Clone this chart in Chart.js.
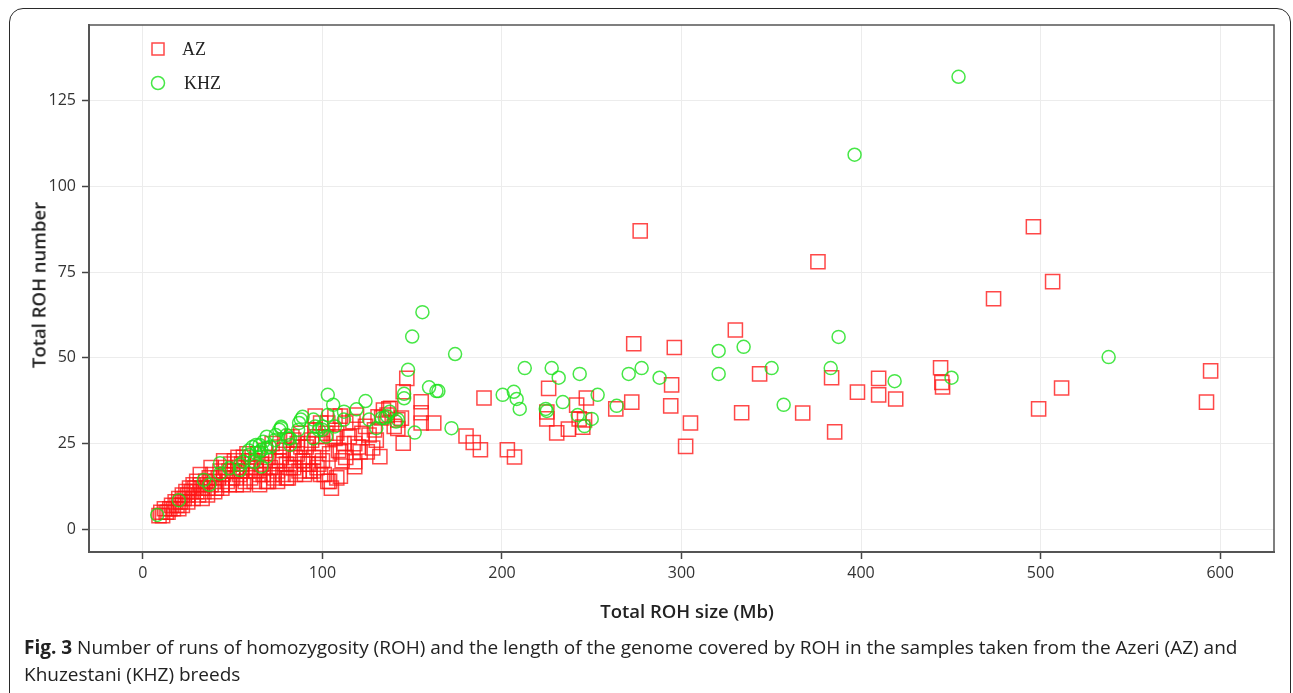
<!DOCTYPE html>
<html><head><meta charset="utf-8">
<script src="https://cdn.jsdelivr.net/npm/chart.js@4/dist/chart.umd.min.js"></script>
<style>
html,body{margin:0;padding:0;background:#fff;width:1293px;height:693px;overflow:hidden;font-family:"Open Sans",sans-serif;}
#wrap{position:relative;width:1293px;height:693px;}
#frame{position:absolute;left:9px;top:8px;width:1282px;height:730px;border:1.6px solid #2a2a2a;border-radius:14px;box-sizing:border-box;}
canvas{position:absolute;left:0;top:0;}
.ytitle{position:absolute;left:38px;top:285px;transform:translate(-50%,-50%) rotate(-90deg);font-weight:600;font-size:18.5px;color:#222;white-space:nowrap;}
.xtitle{position:absolute;left:687px;top:610px;transform:translate(-50%,-50%);font-weight:600;font-size:18.5px;color:#222;white-space:nowrap;}
.caption{position:absolute;left:24px;top:634px;font-size:19px;line-height:27px;color:#222;white-space:nowrap;}
</style></head>
<body>
<div id="wrap">
<div id="frame"></div>
<canvas id="c" width="1293" height="693"></canvas>
<div class="ytitle">Total ROH number</div>
<div class="xtitle">Total ROH size (Mb)</div>
<div class="caption"><b>Fig. 3</b> Number of runs of homozygosity (ROH) and the length of the genome covered by ROH in the samples taken from the Azeri (AZ) and<br>Khuzestani (KHZ) breeds</div>
</div>
<script>
const seriesNames = ["AZ", "KHZ"];
const xTickValues = [0, 100, 200, 300, 400, 500, 600];
const yTickValues = [0, 25, 50, 75, 100, 125];

const azX = [9,10,11,12,13,14,15,16,17,18,19,20,21,22,23,24,25,26,27,28,29,30,31,32,33,34,35,36,37,38,39,40,41,42,43,44,45,46,47,48,49,50,51,52,53,54,55,56,57,58,59,60,
 20,22,25,28,30,33,36,40,44,48,52,56,32,38,45,50,55,60,58,53,
 61,62,63,64,65,66,67,68,69,70,71,72,73,74,75,76,77,78,79,80,81,82,83,84,85,86,87,88,89,90,91,92,93,94,95,96,97,98,99,100,101,102,103,104,105,106,107,108,
 65,70,75,80,85,90,76,86,95,98,92,88,84,78,72,68,63,82,97,100,104,99,103,96,
 107,108,109,110,110,111,112,113,115,117,118,118,118,119,120,121,122,124,125,126,128,129,130,131,132,133,134,136,137,138,140,142,142,144,145,145,147,155,155,155,162,110,113,
 180,184,188,190,203,207,225,225,226,230.5,237,241.6,243,245,246,247,263.4,272.3,273.4,277,294.5,294,296,302.3,305,330,333.5,343.5,367.5,376,383.6,385.3,398,409.8,409.8,419.3,444.3,445.4,445,473.8,496,498.9,506.7,511.7,592.4,594.7];
const azY = [4,5,4,6,5,5,6,7,6,8,7,9,8,10,9,11,10,12,11,13,12,14,10,13,12,11,14,12,15,13,16,14,12,15,17,13,16,18,14,17,19,15,20,13,18,16,19,21,14,17,20,15,
 6,7,8,9,11,9,10,11,12,13,15,13,16,18,20,17,17,18,22,21,
 20,14,17,22,13,19,16,23,14,21,18,25,15,20,17,24,21,16,26,19,15,23,27,18,21,25,17,28,20,16,24,19,17,26,21,29,18,23,31,25,16,28,14,22,12,27,33,15,
 16,14,14,15,16,19,20,22,17,19,25,24,26,23,16,18,20,18,27,20,14,16,31,33,
 26.5,28,23,22.6,15.5,20,25,21,27,31.4,25,18.3,19.7,33.3,24,22.6,28,30,22.6,27.5,23.7,29,26,32.8,21.2,32.5,34.8,33.3,35.1,35.3,30,31.9,29.4,32.4,40.1,25.1,44,37.2,34,31,31,33,31,
 27.2,25.3,23.2,38.3,23.2,21.1,34.2,32.2,41.1,28.1,29.2,36.2,32.2,29.8,31.9,38.3,35.1,37.1,54.1,87,42.1,36,53,24.2,31,58.1,34,45.3,33.9,78,44.2,28.4,40,44,39.2,38,47.1,41.5,42.8,67.2,88.2,35.1,72.2,41.2,37.1,46.2];

const khzX = [8,20,34,37,43,43,48,54,54,56,59,59,61,62,63,63,65,65,66,66,67,69,69,69,71,73.5,74,77,77,80,81,82,82,76,86.5,87,88,89,95,95,96,98,100,100,102,103,103,106,107,112,112,119,124,126,130,133,136,137.5,134.7,141,142,145.5,145.5,147.7,150,151.4,155.7,159.4,163.5,164.6,171.9,173.9,
 200.4,206.6,208.2,209.9,212.7,224.4,225,227.7,231.6,233.9,242.2,243.3,246,250,253.3,263.9,270.6,277.8,287.8,320.7,320.7,334.6,350.2,356.9,383.1,387.5,396.4,418.7,450.4,454.3,537.9];
const khzY = [4.2,8.5,14.4,13,19.3,16.3,17.8,18.8,17.3,19.7,21.7,23,24,19.7,22.2,24.6,24.6,22.6,23.1,18.3,25.5,21.2,23.8,27,24,26,27.5,29.9,29.5,27.5,26.5,24.6,26.5,29,29,31,32,32.8,32,26.5,30,29,29,30,27,39.2,33.3,36.3,30,34.3,32,35,37.4,32,29.5,32.4,33,34.3,32.5,31.4,32,39.5,38.2,46.5,56.2,28.2,63.3,41.4,40.3,40.3,29.5,51.1,
 39.2,40.1,38,35.1,47,35.1,34.5,47,44.2,37.1,33.3,45.3,30.1,32.2,39.2,36,45.3,47,44.2,52,45.3,53.2,47,36.3,47,56.1,109.2,43.2,44.2,131.9,50.2];

const azColor = 'rgba(255,20,20,0.78)';
const khzColor = 'rgba(25,225,25,0.8)';

const toPts = (xs, ys) => xs.map((x, i) => ({x: x, y: ys[i]}));

const framePlugin = {
  id: 'framePlugin',
  afterDraw(chart) {
    const {ctx, chartArea: a} = chart;
    ctx.save();
    ctx.strokeStyle = '#555';
    ctx.lineWidth = 1.5;
    ctx.strokeRect(a.left, a.top, a.right - a.left, a.bottom - a.top);
    const items = [
      {label: seriesNames[0], color: azColor, shape: 'rect', y: 49, tx: 182},
      {label: seriesNames[1], color: khzColor, shape: 'circle', y: 83, tx: 184}
    ];
    ctx.lineWidth = 1.5;
    ctx.font = '18px "Liberation Serif", "DejaVu Serif", serif';
    ctx.textBaseline = 'middle';
    items.forEach(it => {
      ctx.strokeStyle = it.color;
      ctx.beginPath();
      if (it.shape === 'rect') ctx.rect(152, it.y - 6, 12, 12);
      else ctx.arc(158, it.y, 6.5, 0, Math.PI * 2);
      ctx.stroke();
      ctx.fillStyle = '#222';
      ctx.fillText(it.label, it.tx, it.y + 1);
    });
    ctx.restore();
  }
};

new Chart(document.getElementById('c'), {
  type: 'scatter',
  data: {
    datasets: [
      {label: seriesNames[0], data: toPts(azX, azY), pointStyle: 'rect', pointRadius: 10, pointHoverRadius: 10,
       borderColor: azColor, backgroundColor: 'rgba(0,0,0,0)', pointBorderWidth: 1.5, order: 2},
      {label: seriesNames[1], data: toPts(khzX, khzY), pointStyle: 'circle', pointRadius: 6.5, pointHoverRadius: 6.5,
       borderColor: khzColor, backgroundColor: 'rgba(0,0,0,0)', pointBorderWidth: 1.5, order: 1}
    ]
  },
  options: {
    responsive: false,
    animation: false,
    events: [],
    layout: {padding: {top: 25, right: 19, left: 0, bottom: 0}},
    plugins: {legend: {display: false}, tooltip: {enabled: false}},
    scales: {
      x: {
        type: 'linear', min: -30, max: 630,
        afterBuildTicks: s => { s.ticks = xTickValues.map(v => ({value: v})); },
        afterFit: s => { s.height = 141; },
        grid: {color: '#ececec', lineWidth: 1, tickColor: '#444', tickLength: 7, tickWidth: 1.5},
        border: {color: '#555', width: 2},
        ticks: {padding: 5, color: '#333', font: {family: '"Open Sans", sans-serif', size: 16}, maxRotation: 0}
      },
      y: {
        type: 'linear', min: -6.6, max: 147,
        afterBuildTicks: s => { s.ticks = yTickValues.map(v => ({value: v})); },
        afterFit: s => { s.width = 89; },
        grid: {color: '#ececec', lineWidth: 1, tickColor: '#444', tickLength: 7, tickWidth: 1.5},
        border: {color: '#555', width: 2},
        ticks: {padding: 6, color: '#333', font: {family: '"Open Sans", sans-serif', size: 16}}
      }
    }
  },
  plugins: [framePlugin]
});
</script>
</body></html>
